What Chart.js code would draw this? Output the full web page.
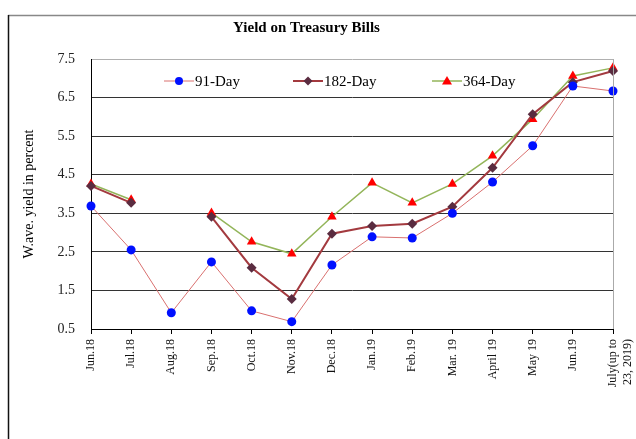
<!DOCTYPE html>
<html>
<head>
<meta charset="utf-8">
<script src="https://cdn.jsdelivr.net/npm/chart.js@4/dist/chart.umd.min.js"></script>
<style>
  html, body { margin: 0; padding: 0; background: #fff; }
  #wrap { width: 636px; height: 439px; position: relative; }
</style>
</head>
<body>
<div id="wrap"><canvas id="yieldChart" width="636" height="439"></canvas></div>
<script>
var months = ["Jun.18", "Jul.18", "Aug.18", "Sep.18", "Oct.18", "Nov.18", "Dec.18",
    "Jan.19", "Feb.19", "Mar. 19", "April 19", "May 19", "Jun.19", ["July(up to", "23, 2019)"]];
var day91 = [3.69, 2.55, 0.92, 2.24, 0.97, 0.69, 2.16, 2.89, 2.86, 3.50, 4.31, 5.25, 6.80, 6.67];
var day182 = [4.21, 3.77, null, 3.41, 2.09, 1.28, 2.97, 3.17, 3.23, 3.67, 4.68, 6.07, 6.90, 7.19];
var day364 = [4.26, 3.85, null, 3.51, 2.76, 2.45, 3.41, 4.29, 3.77, 4.26, 4.99, 5.94, 7.06, 7.27];
var yTicks = [0.5, 1.5, 2.5, 3.5, 4.5, 5.5, 6.5, 7.5];

var serif = "'Liberation Serif', 'Times New Roman', serif";

// frame round the whole picture and the plot box edges
var framePlugin = {
    id: "frame",
    beforeDraw: function (chart) {
        var ctx = chart.ctx;
        ctx.save();
        ctx.strokeStyle = "#888";
        ctx.lineWidth = 1.5;
        ctx.beginPath();
        ctx.moveTo(8, 15.5);
        ctx.lineTo(636, 15.5);
        ctx.stroke();
        ctx.strokeStyle = "#111";
        ctx.beginPath();
        ctx.moveTo(8.5, 15);
        ctx.lineTo(8.5, 439);
        ctx.stroke();
        ctx.restore();
    },
    afterDatasetsDraw: function (chart) {
        var a = chart.chartArea;
        var ctx = chart.ctx;
        ctx.save();
        ctx.strokeStyle = "#aaa";
        ctx.lineWidth = 1;
        ctx.beginPath();
        ctx.moveTo(a.right + 0.5, a.top);
        ctx.lineTo(a.right + 0.5, a.bottom);
        ctx.stroke();
        ctx.restore();
    }
};

// legend drawn inside the plot, like the original
var legendSpots = [164, 293, 432];
var insideLegend = {
    id: "insideLegend",
    afterDraw: function (chart) {
        var ctx = chart.ctx;
        var y = 81;
        ctx.save();
        chart.data.datasets.forEach(function (ds, i) {
            var x0 = legendSpots[i];
            var mx = x0 + 15;
            ctx.strokeStyle = ds.borderColor;
            ctx.lineWidth = ds.borderWidth;
            ctx.beginPath();
            ctx.moveTo(x0, y);
            ctx.lineTo(x0 + 30, y);
            ctx.stroke();
            ctx.fillStyle = ds.pointBackgroundColor;
            ctx.beginPath();
            if (ds.pointStyle === "circle") {
                ctx.arc(mx, y, 4, 0, Math.PI * 2);
            } else if (ds.pointStyle === "rectRot") {
                ctx.moveTo(mx, y - 4.5);
                ctx.lineTo(mx + 4.5, y);
                ctx.lineTo(mx, y + 4.5);
                ctx.lineTo(mx - 4.5, y);
            } else {
                ctx.moveTo(mx, y - 5);
                ctx.lineTo(mx + 5, y + 3.5);
                ctx.lineTo(mx - 5, y + 3.5);
            }
            ctx.closePath();
            ctx.fill();
            ctx.fillStyle = "#000";
            ctx.font = "15px " + serif;
            ctx.textBaseline = "middle";
            ctx.textAlign = "left";
            ctx.fillText(ds.label, x0 + 31, y + 1);
        });
        ctx.restore();
    }
};

var ctx = document.getElementById("yieldChart").getContext("2d");
var yieldChart = new Chart(ctx, {
    type: "line",
    data: {
        labels: months,
        datasets: [{
            label: "91-Day",
            data: day91,
            borderColor: "#d9706f",
            borderWidth: 1,
            pointStyle: "circle",
            pointRadius: 4.5,
            pointBackgroundColor: "#0010ff",
            pointBorderColor: "#0010ff",
            pointBorderWidth: 0,
            clip: false
        }, {
            label: "182-Day",
            data: day182,
            borderColor: "#a33a3f",
            borderWidth: 2,
            pointStyle: "rectRot",
            pointRadius: 5,
            pointBackgroundColor: "#5a2c40",
            pointBorderColor: "#5a2c40",
            pointBorderWidth: 0,
            clip: false
        }, {
            label: "364-Day",
            data: day364,
            borderColor: "#93b55a",
            borderWidth: 1.5,
            pointStyle: "triangle",
            pointRadius: 5.5,
            pointBackgroundColor: "#ff0000",
            pointBorderColor: "#ff0000",
            pointBorderWidth: 0,
            clip: false
        }]
    },
    options: {
        responsive: false,
        animation: false,
        spanGaps: false,
        layout: { padding: { left: 0, right: 23, top: 0, bottom: 0 } },
        plugins: {
            legend: { display: false },
            tooltip: { enabled: false },
            title: {
                display: true,
                text: "Yield on Treasury Bills",
                color: "#000",
                font: { family: serif, size: 15, weight: "bold" },
                padding: { top: 19, bottom: 22 }
            }
        },
        scales: {
            x: {
                offset: false,
                afterFit: function (scale) {
                    scale.height = 110;
                    scale.paddingLeft = 0;
                    scale.paddingRight = 0;
                },
                grid: {
                    drawOnChartArea: false,
                    drawTicks: true,
                    tickLength: 5,
                    color: "#000"
                },
                border: { color: "#000", width: 1 },
                ticks: {
                    minRotation: 90,
                    maxRotation: 90,
                    autoSkip: false,
                    padding: 5,
                    color: "#111",
                    font: { family: serif, size: 12 }
                }
            },
            y: {
                min: 0.5,
                max: 7.5,
                afterFit: function (scale) { scale.width = 91; },
                afterBuildTicks: function (scale) {
                    scale.ticks = yTicks.map(function (v) { return { value: v }; });
                },
                grid: {
                    drawTicks: false,
                    color: function (c) {
                        return c.tick && c.tick.value === 7.5 ? "#b0b0b0" : "#333";
                    },
                    lineWidth: 1
                },
                border: { color: "#000", width: 1 },
                ticks: {
                    padding: 16,
                    color: "#222",
                    font: { family: serif, size: 14 },
                    callback: function (v) { return Number(v).toFixed(1); }
                },
                title: {
                    display: true,
                    text: "W.ave. yield in percent",
                    color: "#000",
                    font: { family: serif, size: 14 },
                    padding: { top: 21, bottom: 0 }
                }
            }
        }
    },
    plugins: [framePlugin, insideLegend]
});
</script>
</body>
</html>
